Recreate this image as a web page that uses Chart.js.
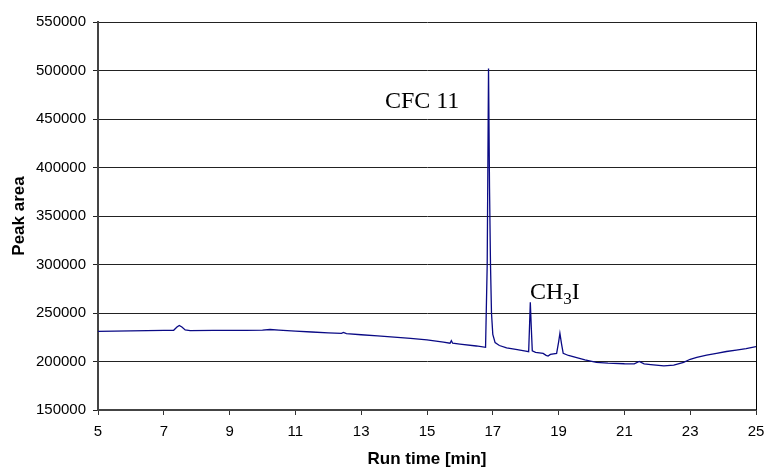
<!DOCTYPE html>
<html>
<head>
<meta charset="utf-8">
<script src="https://cdn.jsdelivr.net/npm/chart.js@4/dist/chart.umd.min.js"></script>
<style>
  html, body { margin: 0; padding: 0; background: #fff; }
  #wrap { width: 765px; height: 467px; }
</style>
</head>
<body>
<div id="wrap"><canvas id="chart"></canvas></div>
<script>
// run time [min]
const runTime = [
  5.0, 5.5, 6.0, 6.5, 7.0, 7.3, 7.4, 7.47, 7.55, 7.65, 7.8, 8.5, 9.0, 9.5, 10.0, 10.23, 10.5,
  11.0, 11.5, 12.0, 12.4, 12.46, 12.55, 13.0, 13.5, 14.0, 14.5, 15.0, 15.5, 15.7, 15.74, 15.78,
  16.0, 16.5, 16.78, 16.83, 16.87, 16.9, 16.93, 16.96, 17.0, 17.07, 17.2, 17.42, 17.7, 18.0, 18.09,
  18.12, 18.14, 18.17, 18.2, 18.3, 18.53, 18.62, 18.68, 18.75, 18.94, 19.0, 19.04, 19.09, 19.14,
  19.3, 19.55, 19.8, 20.15, 20.5, 21.0, 21.3, 21.45, 21.6, 21.8, 22.2, 22.5, 22.8, 23.0, 23.2,
  23.5, 23.8, 24.1, 24.4, 24.7, 25.0
];
// peak area
const peakArea = [
  231000, 231300, 231600, 231800, 232000, 232200, 235500, 237200, 235500, 232500, 231900, 232000, 232100, 232000, 232300, 233000, 232400,
  231300, 230400, 229600, 229000, 230000, 228700, 227600, 226500, 225200, 223800, 222200, 220000, 218800, 221500, 218800,
  218000, 216000, 214600, 300000, 502000, 380000, 300000, 250000, 228000, 219500, 216500, 214000, 212400, 210800, 210100,
  240000, 261000, 235000, 211000, 209400, 208400, 206300, 205600, 207300, 208400, 220000, 229000, 218000, 208400,
  206200, 204000, 201600, 199000, 198300, 197700, 197600, 200100, 197600, 196800, 195500, 196200, 199200, 202300, 204300,
  206500, 208400, 210300, 211800, 213300, 215300
];

const xTicks = { min: 5, max: 25, step: 2 };
const yTicks = { min: 150000, max: 550000, step: 50000 };

// peak names, anchored at (run time, peak area); second item of a part = subscript
const peakLabels = [
  { x: 13.72, y: 461600, parts: [['CFC 11', false]] },
  { x: 18.13, y: 264100, parts: [['CH', false], ['3', true], ['I', false]] }
];

const points = runTime.map((t, i) => ({ x: t, y: peakArea[i] }));

const labelPlugin = {
  id: 'labels',
  afterDatasetsDraw(chart) {
    const {ctx, scales: {x, y}, chartArea} = chart;
    ctx.save();
    // right border of plot
    ctx.strokeStyle = '#000';
    ctx.lineWidth = 1;
    ctx.beginPath();
    ctx.moveTo(Math.round(chartArea.right) + 0.5, chartArea.top);
    ctx.lineTo(Math.round(chartArea.right) + 0.5, chartArea.bottom);
    ctx.stroke();

    ctx.fillStyle = '#000';
    ctx.textBaseline = 'alphabetic';
    ctx.textAlign = 'left';
    peakLabels.forEach(l => {
      let px = x.getPixelForValue(l.x);
      const py = y.getPixelForValue(l.y);
      l.parts.forEach(([txt, sub]) => {
        ctx.font = (sub ? '17px' : '24px') + ' "Liberation Serif", "Times New Roman", serif';
        ctx.fillText(txt, px, py + (sub ? 5 : 0));
        px += ctx.measureText(txt).width;
      });
    });
    ctx.restore();
  }
};

Chart.defaults.font.family = '"Liberation Sans", Arial, sans-serif';
Chart.defaults.color = '#000';

new Chart(document.getElementById('chart'), {
  type: 'line',
  data: {
    datasets: [{
      data: points,
      borderColor: '#0a0a85',
      borderWidth: 1.3,
      pointRadius: 0,
      tension: 0,
      fill: false
    }]
  },
  options: {
    responsive: true,
    maintainAspectRatio: false,
    animation: false,
    layout: { padding: { top: 22, right: 9, left: 0, bottom: 0 } },
    plugins: { legend: { display: false }, tooltip: { enabled: false } },
    scales: {
      x: {
        type: 'linear',
        min: xTicks.min,
        max: xTicks.max,
        afterFit(scale) {
          scale.height = 57;
          scale.paddingLeft = 0;
          scale.paddingRight = 0;
        },
        ticks: { stepSize: xTicks.step, font: { size: 15 }, padding: 8, maxRotation: 0 },
        grid: { drawOnChartArea: false, drawTicks: true, tickLength: 5, color: '#333' },
        border: { color: '#444', width: 2 },
        title: { display: true, text: 'Run time [min]', font: { size: 17, weight: 'bold', lineHeight: 0.9 }, padding: { top: 0, bottom: 0 } }
      },
      y: {
        min: yTicks.min,
        max: yTicks.max,
        afterFit(scale) {
          scale.width = 98;
          scale.paddingTop = 0;
          scale.paddingBottom = 0;
        },
        ticks: { stepSize: yTicks.step, font: { size: 15 }, padding: 7, callback: v => String(v) },
        grid: { color: '#222', lineWidth: 1, tickLength: 5 },
        border: { color: '#444', width: 2 },
        title: { display: true, text: 'Peak area', font: { size: 17, weight: 'bold', lineHeight: 1.2 }, padding: { top: 9, bottom: 0 } }
      }
    }
  },
  plugins: [labelPlugin]
});
</script>
</body>
</html>
